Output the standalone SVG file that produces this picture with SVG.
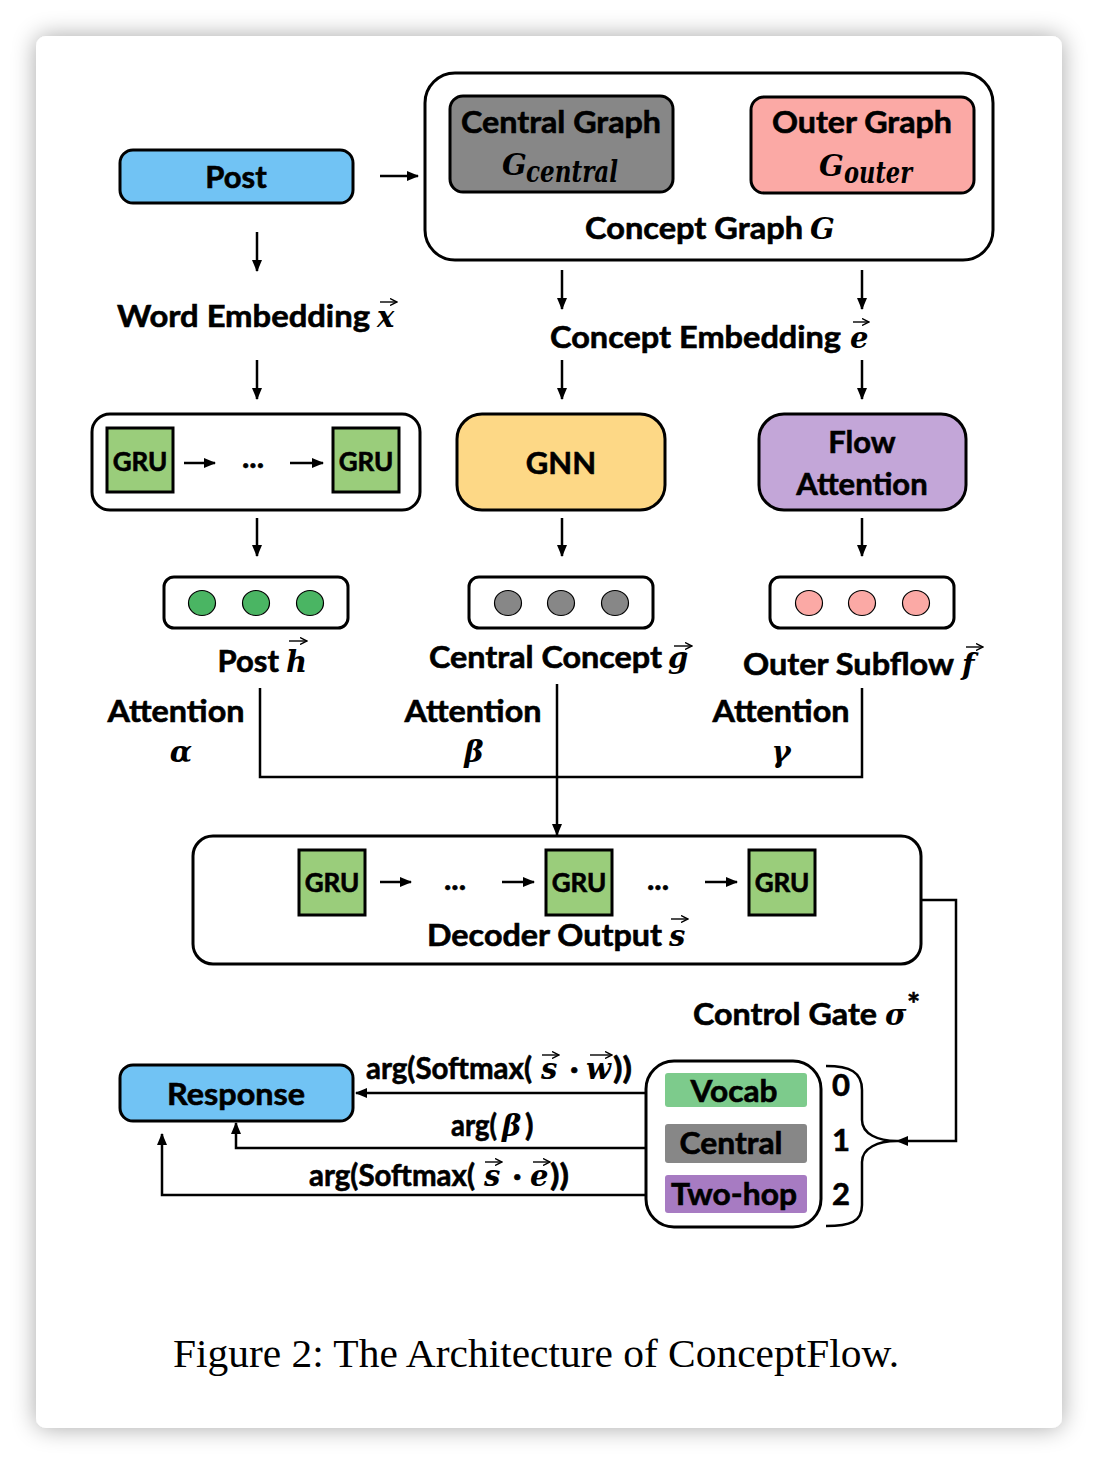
<svg xmlns="http://www.w3.org/2000/svg" width="1098" height="1464" viewBox="0 0 1098 1464">
<defs>
<filter id="sh" x="-10%" y="-10%" width="120%" height="120%">
<feGaussianBlur in="SourceAlpha" stdDeviation="12"/>
<feComponentTransfer><feFuncA type="linear" slope="0.35"/></feComponentTransfer>
<feMerge><feMergeNode/><feMergeNode in="SourceGraphic"/></feMerge>
</filter>
<marker id="ah" markerUnits="userSpaceOnUse" markerWidth="12" markerHeight="12" refX="11" refY="6" orient="auto">
<path d="M0,1 L12,6 L0,11 z" fill="#000"/>
</marker>
<marker id="va" markerUnits="userSpaceOnUse" markerWidth="8" markerHeight="8" refX="7" refY="4" orient="auto">
<path d="M0,0.5 L7,4 L0,7.5" fill="none" stroke="#000" stroke-width="1.4"/>
</marker>
</defs>
<style>
.t{font-family:Lato,"Open Sans","Liberation Sans",sans-serif;font-weight:700;font-size:31px;fill:#000;stroke:#000;stroke-width:0.6}
.m{font-family:"DejaVu Serif","Liberation Serif",serif;font-weight:700;font-style:italic;font-size:29px;fill:#000}
.g{font-size:26px}
.box{stroke:#000;stroke-width:3}
.ln{fill:none;stroke:#000;stroke-width:2.5}
.vec{fill:none;stroke:#000;stroke-width:1.4;marker-end:url(#va)}
.cap{font-family:"Liberation Serif","Times New Roman",serif;font-size:41px;fill:#000}
</style>
<rect width="1098" height="1464" fill="#fff"/>
<rect x="36" y="36" width="1026" height="1392" rx="10" fill="#fff" filter="url(#sh)"/>

<g id="connectors">
<line class="ln" x1="380" y1="176" x2="418" y2="176" marker-end="url(#ah)"/>
<line class="ln" x1="257" y1="232" x2="257" y2="271" marker-end="url(#ah)"/>
<line class="ln" x1="257" y1="360" x2="257" y2="399" marker-end="url(#ah)"/>
<line class="ln" x1="562" y1="270" x2="562" y2="309" marker-end="url(#ah)"/>
<line class="ln" x1="862" y1="270" x2="862" y2="309" marker-end="url(#ah)"/>
<line class="ln" x1="562" y1="360" x2="562" y2="399" marker-end="url(#ah)"/>
<line class="ln" x1="862" y1="360" x2="862" y2="399" marker-end="url(#ah)"/>
<line class="ln" x1="257" y1="518" x2="257" y2="556" marker-end="url(#ah)"/>
<line class="ln" x1="562" y1="518" x2="562" y2="556" marker-end="url(#ah)"/>
<line class="ln" x1="862" y1="518" x2="862" y2="556" marker-end="url(#ah)"/>
<path class="ln" d="M260,688 V777 H862 V688"/>
<line class="ln" x1="557" y1="684" x2="557" y2="835" marker-end="url(#ah)"/>
<path class="ln" d="M921,900 H956 V1141 H897" marker-end="url(#ah)"/>
<line class="ln" x1="654" y1="1093" x2="356" y2="1093" marker-end="url(#ah)"/>
<path class="ln" d="M654,1148 H236 V1123" marker-end="url(#ah)"/>
<path class="ln" d="M654,1195 H162 V1134" marker-end="url(#ah)"/>
<path class="ln" d="M826,1066 C850,1066 862,1072 862,1090 V1120 C862,1134 878,1141 897,1141 C878,1141 862,1148 862,1162 V1205 C862,1222 850,1226 826,1226"/>
</g>

<g id="post">
<rect class="box" x="120" y="150" width="233" height="53" rx="13" fill="#71c3f4"/>
<text class="t" x="236" y="188" text-anchor="middle">Post</text>
</g>

<g id="concept-graph">
<rect class="box" x="425" y="73" width="568" height="187" rx="30" fill="#fff"/>
<text class="t" x="803" y="239" text-anchor="end" textLength="218" lengthAdjust="spacingAndGlyphs">Concept Graph</text>
<text class="m" x="810" y="239" font-size="30">G</text>
</g>
<g id="central-graph">
<rect class="box" x="450" y="96" width="223" height="96" rx="13" fill="#878787"/>
<text class="t" x="561" y="133" text-anchor="middle" textLength="200" lengthAdjust="spacingAndGlyphs">Central Graph</text>
<text class="m" x="502" y="175" font-size="31">G</text>
<text class="m" x="526" y="182" font-size="22" textLength="92" lengthAdjust="spacingAndGlyphs">central</text>
</g>
<g id="outer-graph">
<rect class="box" x="751" y="97" width="223" height="96" rx="13" fill="#fba9a5"/>
<text class="t" x="862" y="133" text-anchor="middle" textLength="180" lengthAdjust="spacingAndGlyphs">Outer Graph</text>
<text class="m" x="819" y="176" font-size="31">G</text>
<text class="m" x="844" y="183" font-size="22" textLength="68" lengthAdjust="spacingAndGlyphs">outer</text>
</g>

<g id="word-embedding">
<text class="t" x="370" y="327" text-anchor="end" textLength="253" lengthAdjust="spacingAndGlyphs">Word Embedding</text>
<text class="m" x="377" y="327">x</text>
<line class="vec" x1="380" y1="302" x2="397" y2="302"/>
</g>
<g id="concept-embedding">
<text class="t" x="841" y="348" text-anchor="end" textLength="291" lengthAdjust="spacingAndGlyphs">Concept Embedding</text>
<text class="m" x="850" y="348">e</text>
<line class="vec" x1="853" y1="322" x2="869" y2="322"/>
</g>

<g id="encoder">
<rect class="box" x="92" y="414" width="328" height="96" rx="18" fill="#fff"/>
<rect class="box" x="107" y="428" width="66" height="64" fill="#9acd7b"/>
<text class="t g" x="140" y="471" text-anchor="middle">GRU</text>
<line class="ln" x1="184" y1="463" x2="215" y2="463" marker-end="url(#ah)"/>
<text class="t" x="253" y="468" text-anchor="middle">...</text>
<line class="ln" x1="290" y1="463" x2="323" y2="463" marker-end="url(#ah)"/>
<rect class="box" x="333" y="428" width="66" height="64" fill="#9acd7b"/>
<text class="t g" x="366" y="471" text-anchor="middle">GRU</text>
</g>

<g id="gnn">
<rect class="box" x="457" y="414" width="208" height="96" rx="25" fill="#fdd886"/>
<text class="t" x="561" y="474" text-anchor="middle">GNN</text>
</g>
<g id="flow-attention">
<rect class="box" x="759" y="414" width="207" height="96" rx="25" fill="#c3a6d8"/>
<text class="t" x="862" y="453" text-anchor="middle">Flow</text>
<text class="t" x="862" y="495" text-anchor="middle">Attention</text>
</g>

<g id="post-vector">
<rect class="box" x="164" y="577" width="184" height="51" rx="10" fill="#fff"/>
<g fill="#4ab563" stroke="#000" stroke-width="1.2">
<ellipse cx="202" cy="603" rx="13.5" ry="12.5"/><ellipse cx="256" cy="603" rx="13.5" ry="12.5"/><ellipse cx="310" cy="603" rx="13.5" ry="12.5"/>
</g>
<text class="t" x="279" y="672" text-anchor="end">Post</text>
<text class="m" x="286" y="672">h</text>
<line class="vec" x1="289" y1="641" x2="307" y2="641"/>
</g>
<g id="central-vector">
<rect class="box" x="469" y="577" width="184" height="51" rx="10" fill="#fff"/>
<g fill="#878787" stroke="#000" stroke-width="1.2">
<ellipse cx="508" cy="603" rx="13.5" ry="12.5"/><ellipse cx="561" cy="603" rx="13.5" ry="12.5"/><ellipse cx="615" cy="603" rx="13.5" ry="12.5"/>
</g>
<text class="t" x="662" y="668" text-anchor="end" textLength="233" lengthAdjust="spacingAndGlyphs">Central Concept</text>
<text class="m" x="668" y="668">g</text>
<line class="vec" x1="674" y1="646" x2="692" y2="646"/>
</g>
<g id="outer-vector">
<rect class="box" x="770" y="577" width="184" height="51" rx="10" fill="#fff"/>
<g fill="#fba9a5" stroke="#000" stroke-width="1.2">
<ellipse cx="809" cy="603" rx="13.5" ry="12.5"/><ellipse cx="862" cy="603" rx="13.5" ry="12.5"/><ellipse cx="916" cy="603" rx="13.5" ry="12.5"/>
</g>
<text class="t" x="954" y="675" text-anchor="end" textLength="211" lengthAdjust="spacingAndGlyphs">Outer Subflow</text>
<text class="m" x="962" y="675">f</text>
<line class="vec" x1="966" y1="647" x2="983" y2="647"/>
</g>

<g id="attention-labels">
<text class="t" x="176" y="722" text-anchor="middle" textLength="137" lengthAdjust="spacingAndGlyphs">Attention</text>
<text class="m" x="181" y="762" text-anchor="middle" font-size="31">α</text>
<text class="t" x="473" y="722" text-anchor="middle" textLength="137" lengthAdjust="spacingAndGlyphs">Attention</text>
<text class="m" x="474" y="762" text-anchor="middle" font-size="31">β</text>
<text class="t" x="781" y="722" text-anchor="middle" textLength="137" lengthAdjust="spacingAndGlyphs">Attention</text>
<text class="m" x="781" y="762" text-anchor="middle" font-size="31">γ</text>
</g>

<g id="decoder">
<rect class="box" x="193" y="836" width="728" height="128" rx="20" fill="#fff"/>
<rect class="box" x="299" y="850" width="66" height="65" fill="#9acd7b"/>
<text class="t g" x="332" y="892" text-anchor="middle">GRU</text>
<line class="ln" x1="380" y1="882" x2="411" y2="882" marker-end="url(#ah)"/>
<text class="t" x="455" y="890" text-anchor="middle">...</text>
<line class="ln" x1="502" y1="882" x2="534" y2="882" marker-end="url(#ah)"/>
<rect class="box" x="546" y="850" width="66" height="65" fill="#9acd7b"/>
<text class="t g" x="579" y="892" text-anchor="middle">GRU</text>
<text class="t" x="658" y="890" text-anchor="middle">...</text>
<line class="ln" x1="705" y1="882" x2="737" y2="882" marker-end="url(#ah)"/>
<rect class="box" x="749" y="850" width="66" height="65" fill="#9acd7b"/>
<text class="t g" x="782" y="892" text-anchor="middle">GRU</text>
<text class="t" x="662" y="946" text-anchor="end" textLength="235" lengthAdjust="spacingAndGlyphs">Decoder Output</text>
<text class="m" x="669" y="946">s</text>
<line class="vec" x1="671" y1="919" x2="688" y2="919"/>
</g>

<g id="control-gate">
<text class="t" x="877" y="1025" text-anchor="end" textLength="184" lengthAdjust="spacingAndGlyphs">Control Gate</text>
<text class="m" x="885" y="1025">σ</text>
<text class="t" x="907" y="1015" font-size="22" stroke-width="0.3">*</text>
</g>

<g id="response">
<rect class="box" x="120" y="1065" width="233" height="56" rx="13" fill="#71c3f4"/>
<text class="t" x="236" y="1105" text-anchor="middle" textLength="138" lengthAdjust="spacingAndGlyphs">Response</text>
</g>

<g id="switch">
<rect class="box" x="646" y="1061" width="175" height="166" rx="28" fill="#fff"/>
<rect x="665" y="1073" width="142" height="34" rx="3" fill="#7dcb8c"/>
<text class="t" x="734" y="1102" text-anchor="middle" textLength="87" lengthAdjust="spacingAndGlyphs">Vocab</text>
<rect x="665" y="1124" width="142" height="39" rx="3" fill="#878787"/>
<text class="t" x="731" y="1154" text-anchor="middle" textLength="103" lengthAdjust="spacingAndGlyphs">Central</text>
<rect x="665" y="1175" width="142" height="38" rx="3" fill="#a77bc2"/>
<text class="t" x="734" y="1205" text-anchor="middle" textLength="126" lengthAdjust="spacingAndGlyphs">Two-hop</text>
<text class="t" x="841" y="1096" text-anchor="middle">0</text>
<text class="t" x="841" y="1151" text-anchor="middle">1</text>
<text class="t" x="841" y="1205" text-anchor="middle">2</text>
</g>

<g id="edge-labels">
<text class="t" x="366" y="1079" textLength="166" lengthAdjust="spacingAndGlyphs">arg(Softmax(</text>
<text class="m" x="541" y="1079">s</text>
<text class="t" x="570" y="1079">·</text>
<text class="m" x="586" y="1079">w</text>
<text class="t" x="613" y="1079" textLength="19" lengthAdjust="spacingAndGlyphs">))</text>
<line class="vec" x1="542" y1="1055" x2="559" y2="1055"/>
<line class="vec" x1="590" y1="1055" x2="612" y2="1055"/>

<text class="t" x="451" y="1136" textLength="46" lengthAdjust="spacingAndGlyphs">arg(</text>
<text class="m" x="502" y="1136" font-size="29">β</text>
<text class="t" x="525" y="1136">)</text>

<text class="t" x="309" y="1186" textLength="166" lengthAdjust="spacingAndGlyphs">arg(Softmax(</text>
<text class="m" x="484" y="1186">s</text>
<text class="t" x="513" y="1186">·</text>
<text class="m" x="530" y="1186">e</text>
<text class="t" x="550" y="1186" textLength="19" lengthAdjust="spacingAndGlyphs">))</text>
<line class="vec" x1="485" y1="1162" x2="502" y2="1162"/>
<line class="vec" x1="533" y1="1162" x2="550" y2="1162"/>
</g>

<text class="cap" x="536" y="1367" text-anchor="middle" textLength="726" lengthAdjust="spacingAndGlyphs">Figure 2: The Architecture of ConceptFlow.</text>
</svg>
